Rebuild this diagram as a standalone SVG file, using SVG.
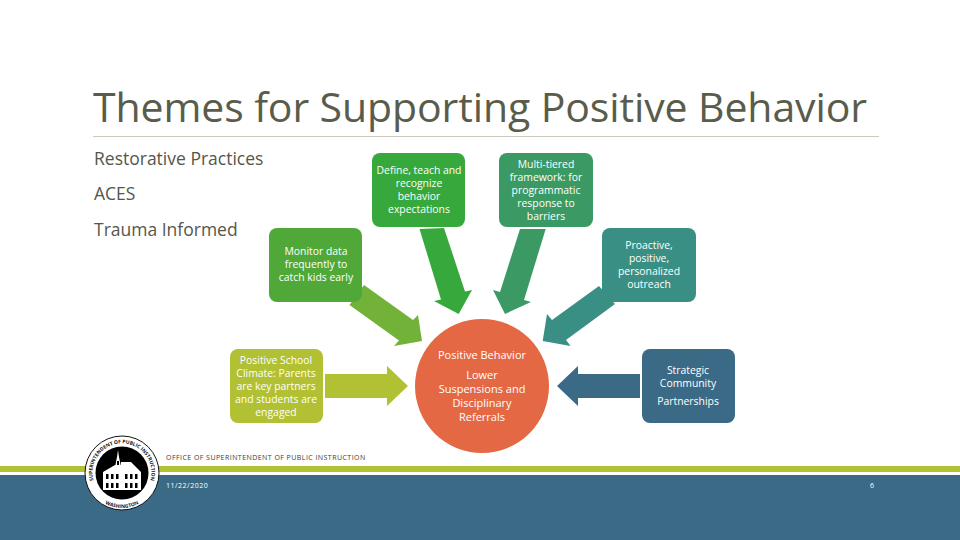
<svg xmlns="http://www.w3.org/2000/svg" width="960" height="540" viewBox="0 0 960 540">
<style>
text{font-family:"Open Sans","Noto Sans","Liberation Sans",sans-serif}
.n{font-size:10.4px;fill:#fff;text-anchor:middle}
.c{font-size:11px;fill:#fff;text-anchor:middle}
.b{font-size:17.5px;fill:#55574a}
.f{font-size:7px;fill:#3a3a3a;letter-spacing:.45px}
.s{font-size:5px;fill:#111;font-weight:700}
</style>
<defs><path id="top" d="M94.3 483A29.5 29.5 0 1 1 149.7 483"/><path id="bot" d="M102 501.7A35 35 0 0 0 142 501.7"/></defs>
<rect width="960" height="540" fill="#fff"/>
<g id="footer">
<rect x="0" y="466" width="960" height="6" fill="#b2c033"/>
<rect x="0" y="475" width="960" height="65" fill="#3b6a86"/>
<text class="f" x="166" y="460">OFFICE OF SUPERINTENDENT OF PUBLIC INSTRUCTION</text>
<text x="166" y="488" font-size="7" fill="#fff" letter-spacing=".5">11/22/2020</text>
<text x="872" y="488" font-size="7" fill="#fff" text-anchor="middle">6</text>
</g>
<g id="title">
<text x="93" y="122" font-size="41" fill="#5a5c4b" textLength="774" lengthAdjust="spacing">Themes for Supporting Positive Behavior</text>
<rect x="93" y="136" width="786" height="1" fill="#c9c9bd"/>
</g>
<g id="bullets">
<text class="b" x="94" y="165">Restorative Practices</text>
<text class="b" x="94" y="200">ACES</text>
<text class="b" x="94" y="236">Trauma Informed</text>
</g>
<g id="connectors">
<polygon fill="#72b239" points="364,285 413,320 418,315 422,341 394,346 399,340.6 349.5,305"/>
<polygon fill="#37a83b" points="419.5,229 444,228 465,291.6 472,290 458.7,314 434,301 441,299.4"/>
<polygon fill="#3b9a64" points="520,229 545.7,229 524,300 531,302 505,314 493,290 500,292"/>
<polygon fill="#3a8f84" points="599,286 615,304 566,340 570.6,346 542.7,341 547,314 552,320"/>
<polygon fill="#b2c033" points="325,374 387,374 387,366 408,386 387,406 387,398 325,398"/>
<polygon fill="#3b6a86" points="640,374 578,374 578,366 557,386 578,406 578,398 640,398"/>
</g>
<g id="node-define">
<rect x="372" y="153" width="93" height="74" rx="8" fill="#37a83b"/>
<text class="n" x="419" y="174">Define, teach and</text>
<text class="n" x="419" y="187">recognize</text>
<text class="n" x="419" y="200">behavior</text>
<text class="n" x="419" y="213">expectations</text>
</g>
<g id="node-multi">
<rect x="499" y="153" width="94" height="74" rx="8" fill="#3b9a64"/>
<text class="n" x="546" y="168">Multi-tiered</text>
<text class="n" x="546" y="181">framework: for</text>
<text class="n" x="546" y="194">programmatic</text>
<text class="n" x="546" y="207">response to</text>
<text class="n" x="546" y="220">barriers</text>
</g>
<g id="node-monitor">
<rect x="269" y="228" width="93" height="74" rx="8" fill="#50a839"/>
<text class="n" x="316" y="255">Monitor data</text>
<text class="n" x="316" y="268">frequently to</text>
<text class="n" x="316" y="281">catch kids early</text>
</g>
<g id="node-proactive">
<rect x="602" y="228" width="94" height="74" rx="8" fill="#3a8f84"/>
<text class="n" x="649" y="249">Proactive,</text>
<text class="n" x="649" y="262">positive,</text>
<text class="n" x="649" y="275">personalized</text>
<text class="n" x="649" y="288">outreach</text>
</g>
<g id="node-climate">
<rect x="230" y="349" width="93" height="74" rx="8" fill="#b2c033"/>
<text class="n" x="276" y="364">Positive School</text>
<text class="n" x="276" y="377">Climate: Parents</text>
<text class="n" x="276" y="390">are key partners</text>
<text class="n" x="276" y="403">and students are</text>
<text class="n" x="276" y="416">engaged</text>
</g>
<g id="node-strategic">
<rect x="642" y="349" width="93" height="74" rx="8" fill="#3b6a86"/>
<text class="n" x="688" y="374">Strategic</text>
<text class="n" x="688" y="387">Community</text>
<text class="n" x="688" y="405">Partnerships</text>
</g>
<g id="node-center">
<circle cx="482" cy="386" r="67" fill="#e56845"/>
<text class="c" x="482" y="359">Positive Behavior</text>
<text class="c" x="482" y="379">Lower</text>
<text class="c" x="482" y="393">Suspensions and</text>
<text class="c" x="482" y="407">Disciplinary</text>
<text class="c" x="482" y="421">Referrals</text>
</g>
<g id="seal">
<circle cx="122" cy="473" r="37" fill="#fff" stroke="#111" stroke-width="1"/>
<circle cx="122" cy="473" r="26.5" fill="#000"/>
<text class="s" text-anchor="middle"><textPath href="#top" startOffset="50%">SUPERINTENDENT OF PUBLIC INSTRUCTION</textPath></text>
<text class="s" text-anchor="middle"><textPath href="#bot" startOffset="50%">WASHINGTON</textPath></text>
<polygon fill="#fff" points="115,467 117,457 118,450 119,457 121,467"/>
<polygon fill="#fff" points="103,472 115,465 121,465 121,462 131,462 141,472 141,490 103,490"/>
<g fill="#000">
<rect x="106" y="474" width="2.5" height="5"/><rect x="111" y="474" width="2.5" height="5"/><rect x="116" y="474" width="2.5" height="5"/><rect x="125" y="474" width="2.5" height="5"/><rect x="130" y="474" width="2.5" height="5"/><rect x="135" y="474" width="2.5" height="5"/>
<rect x="106" y="483" width="2.5" height="5"/><rect x="111" y="483" width="2.5" height="5"/><rect x="116" y="483" width="2.5" height="5"/><rect x="125" y="483" width="2.5" height="5"/><rect x="130" y="483" width="2.5" height="5"/><rect x="135" y="483" width="2.5" height="5"/>
<rect x="117" y="461" width="2" height="4"/>
</g>
</g>
</svg>
